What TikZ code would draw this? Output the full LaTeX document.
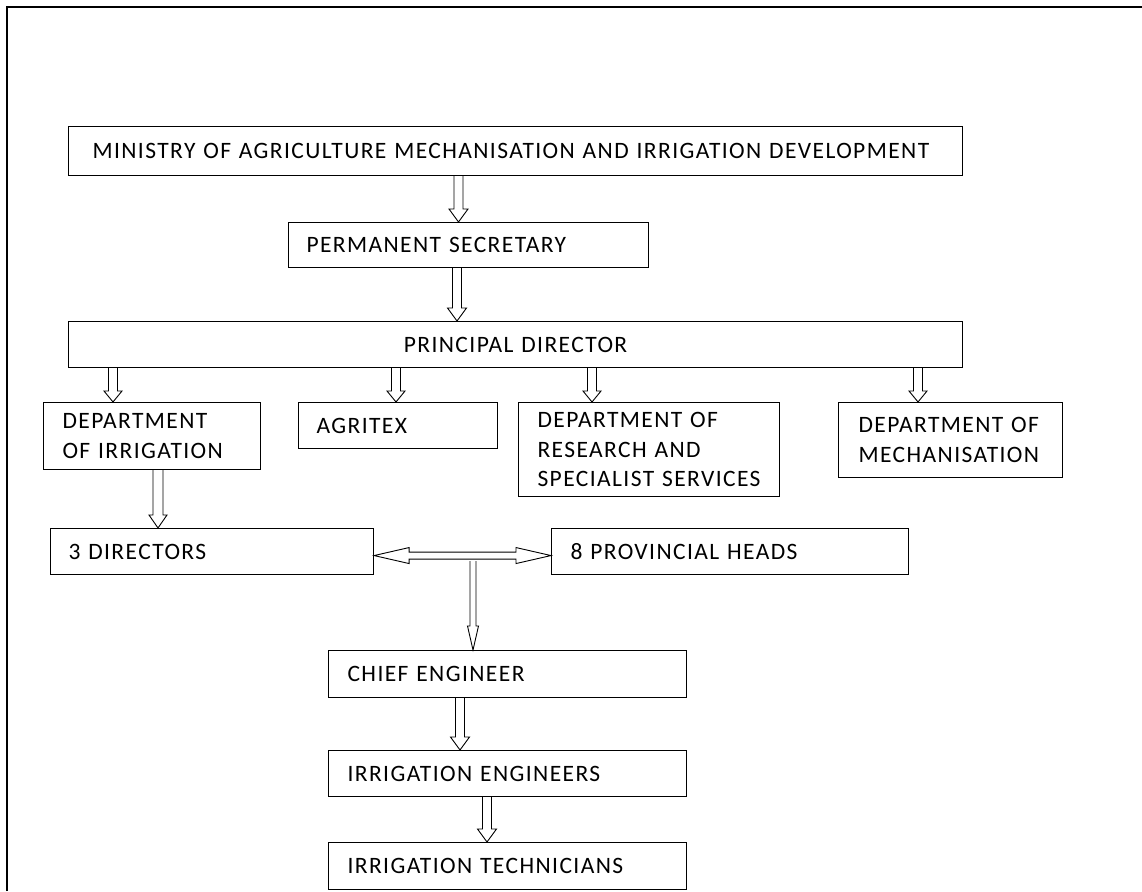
\documentclass[tikz,border=0pt]{standalone}
\usepackage{fontspec}
\setmainfont{Carlito}[LetterSpace=6]
\usetikzlibrary{calc}
\tikzset{
  box/.style={draw, line width=1.1pt, anchor=north west, align=left, inner ysep=0pt,
    font=\fontsize{23.5}{29.5}\selectfont},
  arrowline/.style={draw, line width=0.9pt, line join=miter},
  frame/.style={draw, line width=2.3pt}
}
\newcommand\varrow[6]{\draw[arrowline] let \p1=(#1,0 |- #2), \p2=(#1,0 |- #3) in
  (\x1-#4pt,\y1) -- (\x1-#4pt,\y2+#6pt) -- (\x1-#5pt,\y2+#6pt) -- (\x1,\y2)
  -- (\x1+#5pt,\y2+#6pt) -- (\x1+#4pt,\y2+#6pt) -- (\x1+#4pt,\y1);}
\begin{document}
\begin{tikzpicture}[x=1pt,y=-1pt]
\useasboundingbox (0,0) rectangle (1142,891);
\draw[frame] (7,891) -- (7,7) -- (1142,7);

\node[box, minimum width=894pt, minimum height=49pt, inner xsep=24pt, text width=846pt] (ministry) at (68,126)
  {MINISTRY OF AGRICULTURE MECHANISATION AND IRRIGATION DEVELOPMENT};
\node[box, minimum width=360pt, minimum height=45pt, inner xsep=18pt, text width=324pt] (perm) at (288,222)
  {PERMANENT SECRETARY};
\node[box, align=center, minimum width=894pt, minimum height=46pt, inner xsep=20pt, text width=854pt] (principal) at (68,321)
  {PRINCIPAL DIRECTOR};
\node[box, minimum width=217pt, minimum height=67pt, inner xsep=19pt, text width=179pt] (irrig) at (43,402)
  {DEPARTMENT\\OF IRRIGATION};
\node[box, minimum width=199pt, minimum height=46pt, inner xsep=18pt, text width=163pt] (agritex) at (298,402)
  {AGRITEX};
\node[box, minimum width=261pt, minimum height=94pt, inner xsep=19pt, text width=223pt] (research) at (518,402)
  {DEPARTMENT OF\\RESEARCH AND\\SPECIALIST SERVICES};
\node[box, minimum width=224pt, minimum height=75pt, inner xsep=20pt, text width=184pt] (mech) at (838,402)
  {DEPARTMENT OF\\MECHANISATION};
\node[box, minimum width=323pt, minimum height=46pt, inner xsep=18pt, text width=287pt] (directors) at (50,528)
  {3 DIRECTORS};
\node[box, minimum width=357pt, minimum height=46pt, inner xsep=19pt, text width=319pt] (provincial) at (551,528)
  {8 PROVINCIAL HEADS};
\node[box, minimum width=358pt, minimum height=47pt, inner xsep=19pt, text width=320pt] (chief) at (328,650)
  {CHIEF ENGINEER};
\node[box, minimum width=358pt, minimum height=46pt, inner xsep=19pt, text width=320pt] (engineers) at (328,750)
  {IRRIGATION ENGINEERS};
\node[box, minimum width=358pt, minimum height=47pt, inner xsep=19pt, text width=320pt] (technicians) at (328,842)
  {IRRIGATION TECHNICIANS};

\varrow{458.5}{ministry.south}{perm.north}{4.5}{9.5}{13}
\varrow{457}{perm.south}{principal.north}{4.5}{9.5}{13}
\varrow{113}{principal.south}{irrig.north}{4.5}{9}{11}
\varrow{396}{principal.south}{agritex.north}{4.5}{9}{11}
\varrow{592}{principal.south}{research.north}{4.5}{9}{11}
\varrow{918}{principal.south}{mech.north}{4.5}{9}{11}
\varrow{158}{irrig.south}{directors.north}{5}{9}{13}

\draw[arrowline] let \p1=($(directors.east)+(0,4)$), \p2=(provincial.west) in
  (\x1,\y1) -- (\x1+35pt,\y1+8pt) -- (\x1+35pt,\y1+3.5pt) -- (\x2-35pt,\y1+3.5pt)
  -- (\x2-35pt,\y1+8pt) -- (\x2,\y1) -- (\x2-35pt,\y1-8pt) -- (\x2-35pt,\y1-3.5pt)
  -- (\x1+35pt,\y1-3.5pt) -- (\x1+35pt,\y1-8pt) -- cycle;
\coordinate (junc) at (473,561);
\varrow{473}{junc}{chief.north}{3}{5.5}{24}
\varrow{460}{chief.south}{engineers.north}{4.5}{9.5}{13}
\varrow{487}{engineers.south}{technicians.north}{4.5}{9.5}{13}
\end{tikzpicture}
\end{document}
